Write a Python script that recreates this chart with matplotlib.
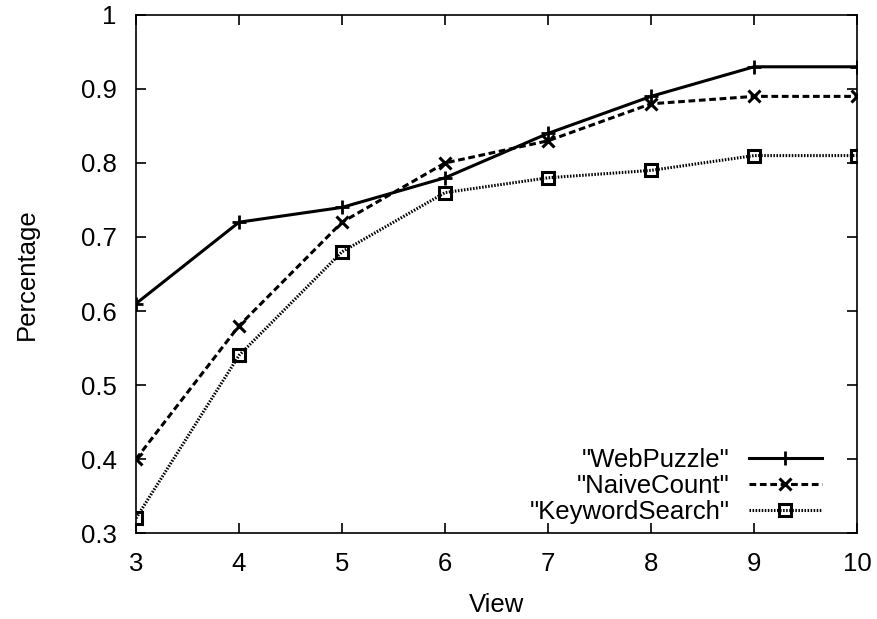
import matplotlib
matplotlib.use("agg")
import matplotlib.pyplot as plt

plt.rcParams["font.family"] = ["Liberation Sans", "DejaVu Sans"]

views = [3, 4, 5, 6, 7, 8, 9, 10]
webpuzzle = [0.61, 0.72, 0.74, 0.78, 0.84, 0.89, 0.93, 0.93]
naivecount = [0.40, 0.58, 0.72, 0.80, 0.83, 0.88, 0.89, 0.89]
keywordsearch = [0.32, 0.54, 0.68, 0.76, 0.78, 0.79, 0.81, 0.81]

fs = 18.5

fig = plt.figure(figsize=(8.77, 6.19), dpi=100)
ax = fig.add_axes([0.1551, 0.1389, 0.8221, 0.8369])

ax.plot(views, webpuzzle, color="black", lw=2.2, marker="+", ms=10, mew=2,
        label='"WebPuzzle"')
ax.plot(views, naivecount, color="black", lw=2.2, ls=(0, (2.2, 1.2)), marker="x",
        ms=9, mew=2.2, label='"NaiveCount"')
ax.plot(views, keywordsearch, color="black", lw=2.2, ls=(0, (0.5, 0.5)), marker="s",
        ms=9, mew=2.2, mfc="none", label='"KeywordSearch"')

ax.set_xlim(3, 10)
ax.set_ylim(0.3, 1.0)
ax.set_xticks(views)
ax.set_yticks([0.3, 0.4, 0.5, 0.6, 0.7, 0.8, 0.9, 1.0])
ax.set_yticklabels(["0.3", "0.4", "0.5", "0.6", "0.7", "0.8", "0.9", "1"])
ax.tick_params(direction="in", length=7, width=1.2, top=True, right=True,
               labelsize=fs)
ax.tick_params(axis="x", pad=14)
ax.tick_params(axis="y", pad=14)
for s in ax.spines.values():
    s.set_linewidth(1.2)

ax.set_xlabel("View", fontsize=fs, labelpad=12)
ax.set_ylabel("Percentage", fontsize=fs, labelpad=30)

ax.legend(loc="lower right", frameon=False, markerfirst=False, fontsize=fs,
          handlelength=2.85, labelspacing=0.08, borderaxespad=0.3,
          handletextpad=0.75, borderpad=0.5, bbox_to_anchor=(0.98, -0.022))

plt.savefig("out.png", dpi=100)
plt.close()
